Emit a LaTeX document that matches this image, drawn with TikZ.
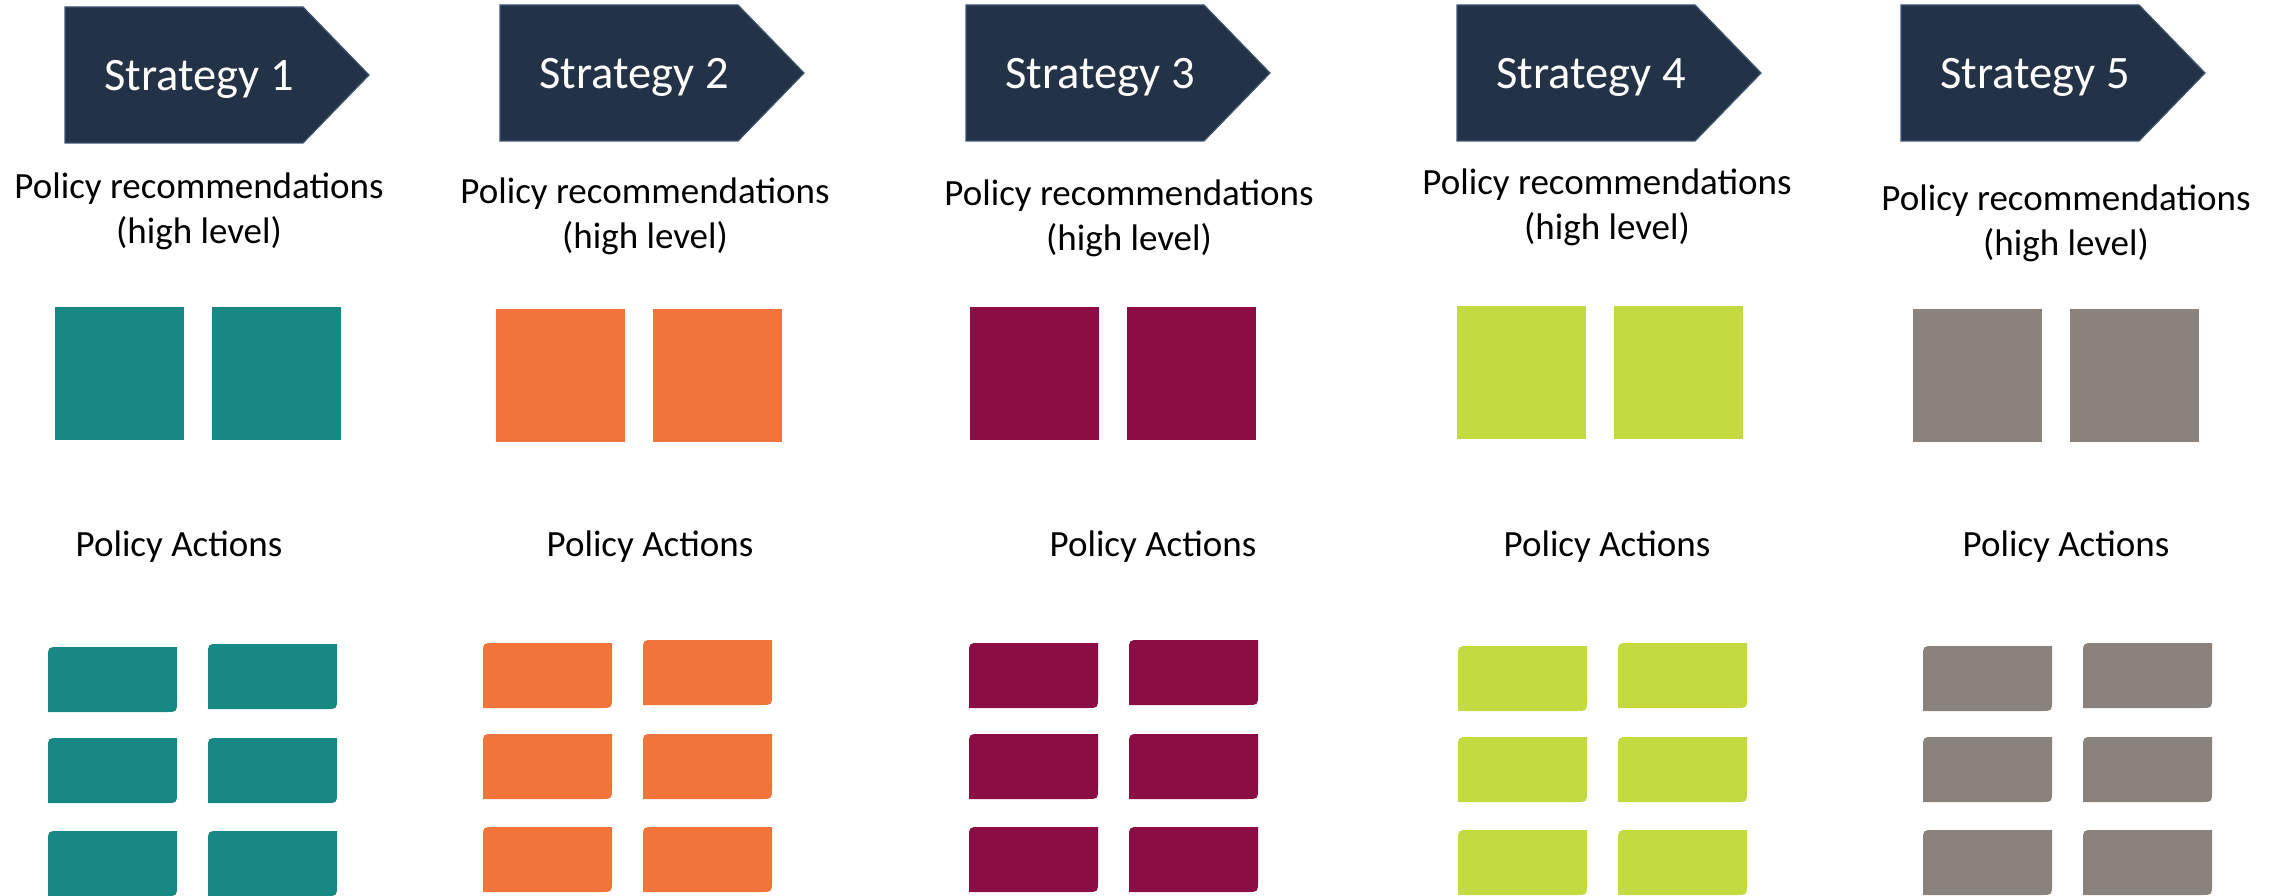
\documentclass[tikz,border=0pt]{standalone}
\usepackage{fontspec}
\setmainfont{Carlito}
\definecolor{navy}{HTML}{243248}
\definecolor{navyedge}{HTML}{3E5572}
\definecolor{teal1}{HTML}{188884}
\definecolor{orange1}{HTML}{F3743B}
\definecolor{maroon1}{HTML}{8C0D43}
\definecolor{lime1}{HTML}{C5DA40}
\definecolor{grey1}{HTML}{8A827D}
\begin{document}
\begin{tikzpicture}[x=1pt,y=-1pt,
    arrowbox/.style={fill=navy,draw=navyedge,line width=1.2pt},
    strat/.style={font=\fontsize{46.5}{50}\selectfont,text=white,anchor=base,inner sep=0pt},
    rec/.style={font=\fontsize{37}{45}\selectfont,align=center,anchor=base,inner sep=0pt},
    act/.style={font=\fontsize{37}{45}\selectfont,anchor=base,inner sep=0pt}]
    \useasboundingbox (0,0) rectangle (2285,896);
    \foreach \ax/\ay/\rx/\ry/\sx/\sy/\px/\bx/\by/\col [count=\i] in {
        65/7/199/198/55/307/179/48/647/teal1,
        500/5/645/203/496/309/650/483/643/orange1,
        966/5/1129/205/970/307/1153/969/643/maroon1,
        1457/5/1607/195/1457/306/1607/1458/646/lime1,
        1901/5/2066/210/1913/309/2066/1923/646/grey1}
    {
        \filldraw[arrowbox] (\ax,\ay) -- ++(238,0) -- ++(66,68) -- ++(-66,68) -- ++(-238,0) -- cycle;
        \node[strat] (strat\i) at ({\ax+134},{\ay+84}) {Strategy \i};
        \node[rec] (rec\i) at (\rx,{\ry+45}) {Policy recommendations\\(high level)};
        \fill[\col] (\sx,\sy) rectangle ++(129,133);
        \fill[\col] ({\sx+157},\sy) rectangle ++(129,133);
        \node[act] (act\i) at (\px,556) {Policy Actions};
        \foreach \dx/\dy in {0/0,160/-3,0/91,160/91,0/184,160/184}
            \fill[\col,shift={({\bx+\dx},{\by+\dy})}] (0,65) -- (0,11) .. controls (0,0) .. (11,0)
                -- (129,0) -- (129,54) .. controls (129,65) .. (118,65) -- cycle;
    }
\end{tikzpicture}
\end{document}
